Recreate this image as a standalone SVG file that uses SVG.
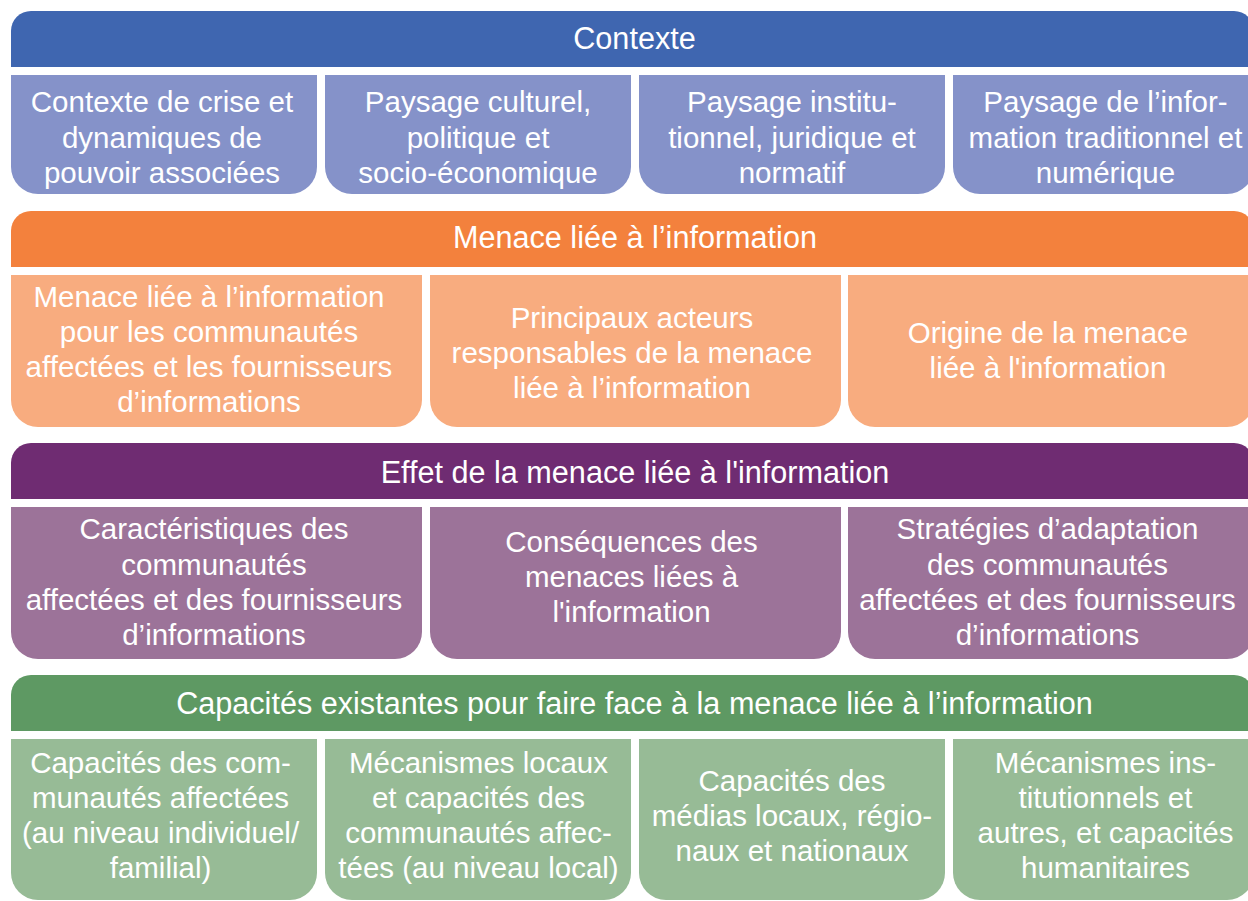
<svg xmlns="http://www.w3.org/2000/svg" width="1248" height="901" viewBox="0 0 1248 901">
<style>
text{font-family:"Liberation Sans",Arial,sans-serif;font-size:29.5px;fill:#ffffff;text-anchor:middle}
text.h{font-size:30.6px}
.hb{fill:#3F66B0}.bb{fill:#8592C9}
.ho{fill:#F3813D}.bo{fill:#F8AC7F}
.hp{fill:#6F2C72}.bp{fill:#9C7399}
.hg{fill:#5E9963}.bg{fill:#97BB96}
</style>
<rect width="1248" height="901" fill="#ffffff"/>
<g id="connectors"></g>

<g id="h-contexte"><path class="hb" d="M11,67 V31 A20,20 0 0 1 31,11 H1234 A20,20 0 0 1 1254,31 V67 Z"/><text class="h" x="634.5" y="48.5">Contexte</text></g>
<g id="b-crise"><path class="bb" d="M11,75 H317 V167 A27,27 0 0 1 290,194 H38 A27,27 0 0 1 11,167 Z"/><text><tspan x="162" y="112">Contexte de crise et</tspan><tspan x="162" y="147.5">dynamiques de</tspan><tspan x="162" y="183">pouvoir associées</tspan></text></g>
<g id="b-culturel"><path class="bb" d="M325,75 H631 V167 A27,27 0 0 1 604,194 H352 A27,27 0 0 1 325,167 Z"/><text><tspan x="478" y="112">Paysage culturel,</tspan><tspan x="478" y="147.5">politique et</tspan><tspan x="478" y="183">socio-économique</tspan></text></g>
<g id="b-institutionnel"><path class="bb" d="M639,75 H945 V167 A27,27 0 0 1 918,194 H666 A27,27 0 0 1 639,167 Z"/><text><tspan x="792" y="112">Paysage institu-</tspan><tspan x="792" y="147.5">tionnel, juridique et</tspan><tspan x="792" y="183">normatif</tspan></text></g>
<g id="b-information"><path class="bb" d="M953,75 H1254 V167 A27,27 0 0 1 1227,194 H980 A27,27 0 0 1 953,167 Z"/><text><tspan x="1105.5" y="112">Paysage de l’infor-</tspan><tspan x="1105.5" y="147.5">mation traditionnel et</tspan><tspan x="1105.5" y="183">numérique</tspan></text></g>

<g id="h-menace"><path class="ho" d="M11,267 V231 A20,20 0 0 1 31,211 H1234 A20,20 0 0 1 1254,231 V267 Z"/><text class="h" x="635" y="247.5">Menace liée à l’information</text></g>
<g id="b-menace-comm"><path class="bo" d="M11,275 H422 V400 A27,27 0 0 1 395,427 H38 A27,27 0 0 1 11,400 Z"/><text><tspan x="209" y="307">Menace liée à l’information</tspan><tspan x="209" y="342">pour les communautés</tspan><tspan x="209" y="377">affectées et les fournisseurs</tspan><tspan x="209" y="412">d’informations</tspan></text></g>
<g id="b-acteurs"><path class="bo" d="M430,275 H841 V400 A27,27 0 0 1 814,427 H457 A27,27 0 0 1 430,400 Z"/><text><tspan x="632" y="328">Principaux acteurs</tspan><tspan x="632" y="363">responsables de la menace</tspan><tspan x="632" y="398">liée à l’information</tspan></text></g>
<g id="b-origine"><path class="bo" d="M848,275 H1254 V400 A27,27 0 0 1 1227,427 H875 A27,27 0 0 1 848,400 Z"/><text><tspan x="1048" y="343">Origine de la menace</tspan><tspan x="1048" y="378">liée à l'information</tspan></text></g>

<g id="h-effet"><path class="hp" d="M11,499 V463 A20,20 0 0 1 31,443 H1234 A20,20 0 0 1 1254,463 V499 Z"/><text class="h" x="635" y="482.5">Effet de la menace liée à l'information</text></g>
<g id="b-caracteristiques"><path class="bp" d="M11,507 H422 V632 A27,27 0 0 1 395,659 H38 A27,27 0 0 1 11,632 Z"/><text><tspan x="214" y="539">Caractéristiques des</tspan><tspan x="214" y="575">communautés</tspan><tspan x="214" y="610">affectées et des fournisseurs</tspan><tspan x="214" y="645">d’informations</tspan></text></g>
<g id="b-consequences"><path class="bp" d="M430,507 H841 V632 A27,27 0 0 1 814,659 H457 A27,27 0 0 1 430,632 Z"/><text><tspan x="631.5" y="552">Conséquences des</tspan><tspan x="631.5" y="587">menaces liées à</tspan><tspan x="631.5" y="622">l'information</tspan></text></g>
<g id="b-strategies"><path class="bp" d="M848,507 H1254 V632 A27,27 0 0 1 1227,659 H875 A27,27 0 0 1 848,632 Z"/><text><tspan x="1047.5" y="539">Stratégies d’adaptation</tspan><tspan x="1047.5" y="575">des communautés</tspan><tspan x="1047.5" y="610">affectées et des fournisseurs</tspan><tspan x="1047.5" y="645">d’informations</tspan></text></g>

<g id="h-capacites"><path class="hg" d="M11,731 V695 A20,20 0 0 1 31,675 H1234 A20,20 0 0 1 1254,695 V731 Z"/><text class="h" x="634.5" y="713.5">Capacités existantes pour faire face à la menace liée à l’information</text></g>
<g id="b-cap-comm"><path class="bg" d="M11,739 H317 V873 A27,27 0 0 1 290,900 H38 A27,27 0 0 1 11,873 Z"/><text><tspan x="160.5" y="773">Capacités des com-</tspan><tspan x="160.5" y="808">munautés affectées</tspan><tspan x="160.5" y="843">(au niveau individuel/</tspan><tspan x="160.5" y="878">familial)</tspan></text></g>
<g id="b-mecanismes-locaux"><path class="bg" d="M325,739 H631 V873 A27,27 0 0 1 604,900 H352 A27,27 0 0 1 325,873 Z"/><text><tspan x="478.5" y="773">Mécanismes locaux</tspan><tspan x="478.5" y="808">et capacités des</tspan><tspan x="478.5" y="843">communautés affec-</tspan><tspan x="478.5" y="878">tées (au niveau local)</tspan></text></g>
<g id="b-medias"><path class="bg" d="M639,739 H945 V873 A27,27 0 0 1 918,900 H666 A27,27 0 0 1 639,873 Z"/><text><tspan x="792" y="790.5">Capacités des</tspan><tspan x="792" y="825.5">médias locaux, régio-</tspan><tspan x="792" y="860.5">naux et nationaux</tspan></text></g>
<g id="b-institutionnels"><path class="bg" d="M953,739 H1254 V873 A27,27 0 0 1 1227,900 H980 A27,27 0 0 1 953,873 Z"/><text><tspan x="1105.5" y="773">Mécanismes ins-</tspan><tspan x="1105.5" y="808">titutionnels et</tspan><tspan x="1105.5" y="843">autres, et capacités</tspan><tspan x="1105.5" y="878">humanitaires</tspan></text></g>
</svg>
